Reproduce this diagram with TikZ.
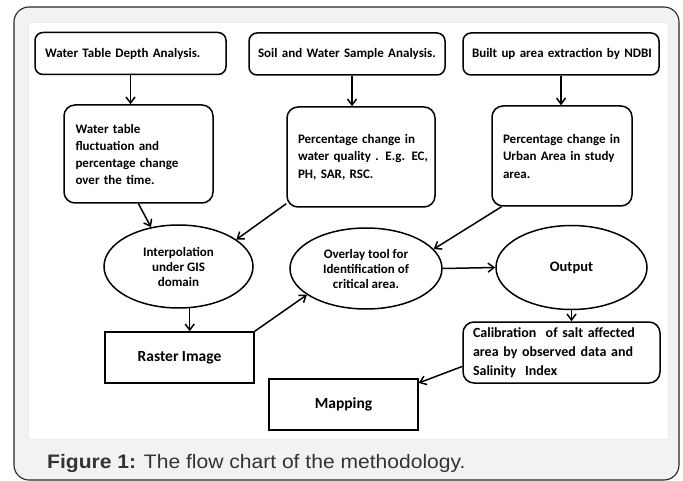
\documentclass[tikz,border=0pt]{standalone}
\usepackage{fontspec}
\setmainfont{Carlito}
\newfontfamily\capfont{Liberation Sans}
\usetikzlibrary{shapes.geometric,arrows.meta}
\definecolor{framegray}{HTML}{F1F2F4}
\definecolor{capgray}{HTML}{333333}
\begin{document}
\begin{tikzpicture}[x=1pt,y=-1pt,
	stepbox/.style={draw,line width=1.5pt,rounded corners=8pt,inner sep=0pt,align=left,font=\bfseries\fontsize{13}{17}\selectfont},
	plainbox/.style={draw,line width=1.5pt,inner sep=0pt,minimum width=149pt,minimum height=51pt,font=\bfseries\fontsize{15.5}{18}\selectfont},
	oval/.style={draw,ellipse,line width=1.5pt,inner sep=0pt,align=center,font=\bfseries\fontsize{13}{15}\selectfont},
	arr/.style={line width=1.5pt,-{Straight Barb[length=6pt,width=9pt,line width=1.5pt]}}]
	\useasboundingbox (0,0) rectangle (683,481);
	\filldraw[fill=framegray,draw=black!85,line width=1.1pt,rounded corners=15pt] (14,7) rectangle (679,480);
	\filldraw[fill=white,draw=black!7] (28,22) rectangle (668,439);
	\node[stepbox,minimum width=191pt,minimum height=42pt,text width=171pt] (depth) at (130.5,53.5) {Water Table Depth Analysis.};
	\node[stepbox,minimum width=196pt,minimum height=42pt,text width=178pt] (sample) at (347,54) {Soil and Water Sample Analysis.};
	\node[stepbox,minimum width=196pt,minimum height=42pt,text width=178pt] (ndbi) at (561,54) {\mbox{Built up area extraction by NDBI}};
	\node[stepbox,rounded corners=11pt,minimum width=149pt,minimum height=98pt,text width=126pt] (fluct) at (138.5,154) {Water table\\fluctuation and\\\mbox{percentage change}\\over the time.};
	\node[stepbox,rounded corners=11pt,minimum width=148pt,minimum height=100pt,font=\bfseries\fontsize{13}{17.5}\selectfont,text width=126pt] (quality) at (361,157) {\mbox{Percentage change in}\\\mbox{water quality . E.g. EC,}\\PH, SAR, RSC.};
	\node[stepbox,rounded corners=11pt,minimum width=140pt,minimum height=100pt,font=\bfseries\fontsize{13}{17.5}\selectfont,text width=118pt] (urban) at (562,156) {\mbox{Percentage change in}\\\mbox{Urban Area in study}\\area.};
	\node[oval,minimum width=149pt,minimum height=83pt] (interp) at (178.5,266.5) {Interpolation\\under GIS\\domain};
	\node[oval,minimum width=152pt,minimum height=81pt] (overlay) at (366,268.5) {Overlay tool for\\Identification of\\critical area.};
	\node[oval,minimum width=151pt,minimum height=84pt,font=\bfseries\fontsize{14.5}{17}\selectfont] (output) at (571.5,267.5) {Output};
	\node[plainbox] (raster) at (179.5,357.5) {Raster Image};
	\node[plainbox] (mapping) at (343.5,404.5) {Mapping};
	\node[stepbox,rounded corners=11pt,minimum width=197pt,minimum height=61pt,font=\bfseries\fontsize{14}{19}\selectfont,text width=177pt] (calib) at (561.5,352.5) {\mbox{Calibration \ of salt affected}\\\mbox{area by observed data and}\\Salinity \ Index};
	\node[anchor=base west,text=capgray,inner sep=0pt,font=\capfont\fontsize{19.5}{22}\selectfont] (caption) at (47,468) {\scalebox{1.08}[1]{\textbf{Figure 1:} The flow chart of the methodology.}};
	\draw[arr] (depth.south) -- (depth.south |- fluct.north);
	\draw[arr] ([xshift=5pt]sample.south) -- ([xshift=5pt]sample.south |- quality.north);
	\draw[arr] (ndbi.south) -- (ndbi.south |- urban.north);
	\draw[arr] (fluct.south) -- (interp.125);
	\draw[arr] (quality.212) -- (interp.25);
	\draw[arr] (urban.220) -- (overlay.16);
	\draw[arr] (interp.-75) -- (interp.-75 |- raster.north);
	\draw[arr] (raster.north east) -- (overlay.204);
	\draw[arr] (overlay.east) -- (output.west);
	\draw[arr] (output.south) -- (output.south |- calib.north);
	\draw[arr] (calib.188) -- (mapping.16);
\end{tikzpicture}
\end{document}
